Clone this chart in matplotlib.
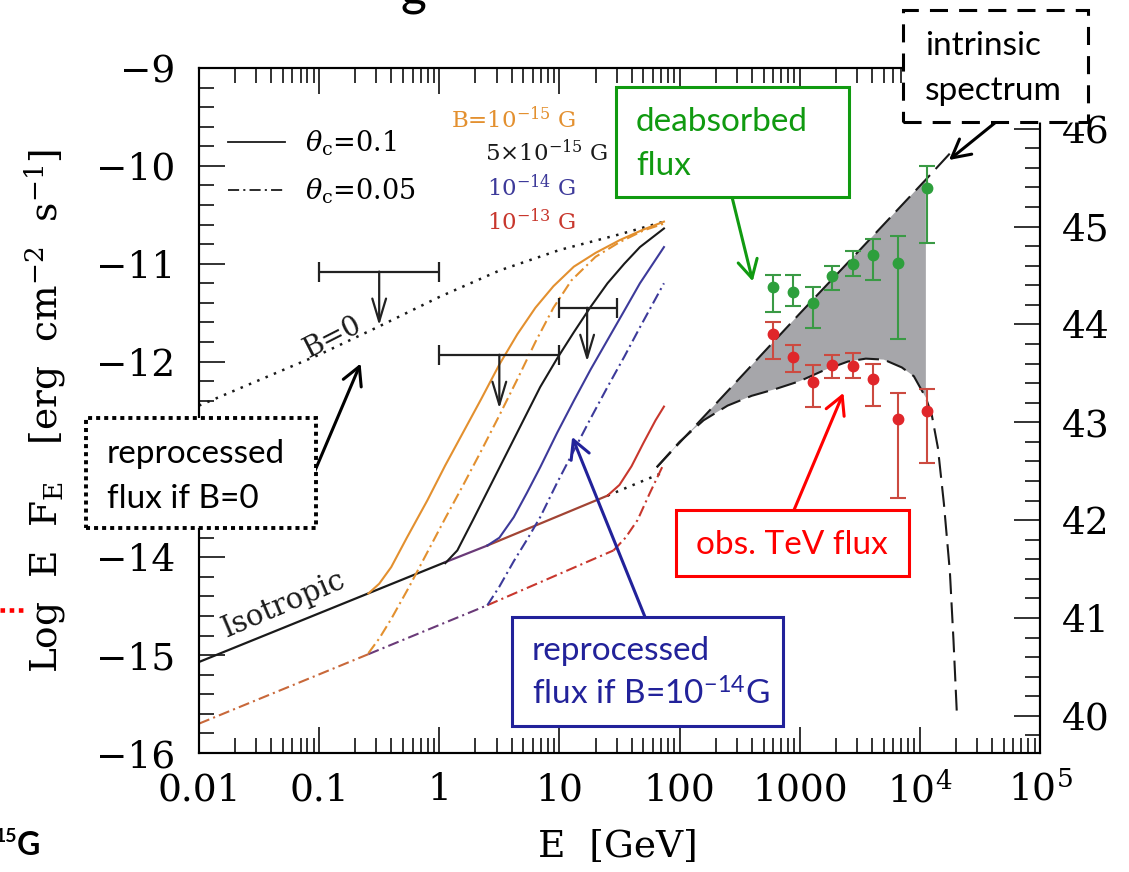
#!/usr/bin/env python3

import numpy as np
import matplotlib
matplotlib.use('Agg')
import matplotlib.pyplot as plt
import matplotlib.patches as patches
from matplotlib.lines import Line2D
from matplotlib.patches import ArrowStyle
from matplotlib.ticker import (FixedLocator, MultipleLocator, LogLocator, NullFormatter,
                               FuncFormatter)

plt.rcParams['font.family'] = 'DejaVu Serif'
plt.rcParams['mathtext.fontset'] = 'dejavuserif'
# only used by texts that ask for math_fontfamily='custom'
plt.rcParams['mathtext.rm'] = 'Lato'
plt.rcParams['mathtext.it'] = 'Lato:italic'
plt.rcParams['mathtext.bf'] = 'Lato:bold'
plt.rcParams['lines.scale_dashes'] = False

W, H = 1129, 872
SANS = 'Lato'

# log(E L_E) - log(E F_E) for the right-hand axis
LUM_OFFSET = 55.62

ORANGE = '#e3902f'
BLACK = '#1a1a1a'
BLUE = '#3d3a9a'
RED = '#c8372d'
PURPLE = '#6a3a78'
BROWN = '#c8683a'
DARKRED = '#a24434'

DASHDOT = (0, (8, 3, 1.5, 3))
LONGDASH = (0, (15, 6))
DOTS = (0, (1.8, 4.7))

# ---- cascade spectra: log10(E/GeV) against log10(E F_E) ----

# isotropic part, theta_c = 0.1 and 0.05
iso_logE = [-2.0, 0.05, 0.40, 1.40, 1.87]
iso_logF = [-15.07, -14.05, -13.88, -13.37, -13.13]
iso05_logE = [-2.0, -0.59, 0.40, 1.45]
iso05_logF = [-15.70, -14.99, -14.49, -13.93]

# B = 0
b0_logE = [-2.0, -1.5, -1.0, -0.5, 0.0, 0.5, 1.0, 1.5, 1.87]
b0_logF = [-12.45, -12.19, -11.93, -11.64, -11.34, -11.07, -10.86, -10.70, -10.57]

# B = 1e-15 G
b15_logE = [-0.59, -0.50, -0.40, -0.27, -0.10, 0.05, 0.20, 0.35, 0.50, 0.65,
            0.80, 0.95, 1.12, 1.30, 1.50, 1.70, 1.87]
b15_logF = [-14.37, -14.27, -14.10, -13.80, -13.42, -13.06, -12.72, -12.38, -12.03, -11.72,
            -11.45, -11.23, -11.03, -10.89, -10.76, -10.65, -10.57]
b15_05_logE = [-0.59, -0.50, -0.40, -0.25, -0.10, 0.05, 0.20, 0.35, 0.50, 0.65,
               0.80, 0.95, 1.10, 1.30, 1.50, 1.70, 1.87]
b15_05_logF = [-14.98, -14.83, -14.63, -14.30, -13.95, -13.60, -13.26, -12.91, -12.55, -12.18,
               -11.80, -11.45, -11.17, -10.93, -10.78, -10.66, -10.59]

# B = 5e-15 G
b5_logE = [0.05, 0.15, 0.28, 0.42, 0.56, 0.70, 0.84, 0.98, 1.12, 1.26, 1.40, 1.54, 1.67, 1.87]
b5_logF = [-14.06, -13.93, -13.62, -13.28, -12.94, -12.60, -12.26, -11.97, -11.70, -11.44,
           -11.20, -11.00, -10.83, -10.64]

# B = 1e-14 G
b14_logE = [0.40, 0.50, 0.62, 0.73, 0.84, 0.98, 1.12, 1.26, 1.40, 1.54, 1.67, 1.87]
b14_logF = [-13.88, -13.80, -13.59, -13.34, -13.08, -12.73, -12.40, -12.08, -11.78, -11.48,
            -11.20, -10.83]
b14_05_logE = [0.40, 0.50, 0.62, 0.73, 0.84, 0.98, 1.12, 1.26, 1.40, 1.54, 1.67, 1.87]
b14_05_logF = [-14.49, -14.30, -14.04, -13.82, -13.59, -13.24, -12.91, -12.58, -12.26, -11.95,
               -11.65, -11.20]

# B = 1e-13 G
b13_logE = [1.40, 1.50, 1.60, 1.70, 1.80, 1.87]
b13_logF = [-13.37, -13.26, -13.07, -12.83, -12.60, -12.46]
b13_05_logE = [1.45, 1.55, 1.65, 1.75, 1.87]
b13_05_logF = [-13.93, -13.80, -13.62, -13.35, -13.04]

# Fermi upper limits
ul_lo = [0.1, 1.0, 10.0]
ul_hi = [1.0, 10.0, 30.0]
ul_mid = [0.316, 3.16, 17.0]
ul_logF = [-11.08, -11.93, -11.45]
ul_drop = 0.55

# TeV spectrum
tev_E = [600, 880, 1290, 1860, 2770, 4060, 6520, 11500]
obs_logF = [-11.72, -11.95, -12.21, -12.03, -12.05, -12.18, -12.59, -12.50]
obs_top = [-11.60, -11.83, -12.04, -11.93, -11.91, -12.02, -12.32, -12.28]
obs_bot = [-11.97, -12.11, -12.46, -12.17, -12.17, -12.45, -13.39, -13.04]
deabs_logF = [-11.24, -11.29, -11.40, -11.13, -11.00, -10.91, -10.99, -10.23]
deabs_top = [-11.12, -11.12, -11.24, -11.02, -10.87, -10.75, -10.72, -10.00]
deabs_bot = [-11.49, -11.43, -11.66, -11.27, -11.13, -11.17, -11.77, -10.79]

# intrinsic and EBL-absorbed model spectra
intr_logE = [1.81, 2.5, 3.0, 3.5, 4.05, 4.26]
intr_logF = [-13.08, -12.17, -11.51, -10.86, -10.14, -9.86]
abs_logE = [1.81, 2.0, 2.2, 2.4, 2.6, 2.8, 3.0, 3.2, 3.4, 3.55, 3.7, 3.85, 3.95, 4.05,
            4.10, 4.15, 4.20, 4.25, 4.28, 4.31]
abs_logF = [-13.08, -12.82, -12.60, -12.45, -12.35, -12.28, -12.20, -12.09, -12.00, -11.97,
            -11.98, -12.06, -12.15, -12.37, -12.55, -12.88, -13.45, -14.15, -14.85, -15.65]
fill_edge_logE = 4.05

xtick_vals = [1e-2, 1e-1, 1, 10, 100, 1000, 1e4, 1e5]
xtick_labels = ['0.01', '0.1', '1', '10', '100', '1000', r'$10^4$', r'$10^5$']
# the -13 label sits behind the B=0 call-out box
ytick_hidden = [-13]


def E(logE):
    return 10 ** np.asarray(logE, dtype=float)


fig = plt.figure(figsize=(W / 100, H / 100), dpi=100)
ax = fig.add_axes([199 / W, 1 - 753 / H, 841 / W, 685 / H])
ax.set_xscale('log')
ax.set_xlim(1e-2, 1e5)
ax.set_ylim(-16, -9)

# shaded region between intrinsic and absorbed spectra
intr_logE_a, intr_logF_a = np.array(intr_logE), np.array(intr_logF)
abs_logE_a, abs_logF_a = np.array(abs_logE), np.array(abs_logF)
up = intr_logE_a <= fill_edge_logE
lo = abs_logE_a <= fill_edge_logE
poly_x = np.concatenate([intr_logE_a[up], abs_logE_a[lo][::-1]])
poly_y = np.concatenate([intr_logF_a[up], abs_logF_a[lo][::-1]])
ax.fill(E(poly_x), poly_y, color='#a6a6aa', lw=0, zorder=1)

ax.plot(E(intr_logE), intr_logF, color=BLACK, lw=1.5, ls=LONGDASH, zorder=3)
ax.plot(E(abs_logE), abs_logF, color=BLACK, lw=1.5, ls=LONGDASH, zorder=3)

# isotropic cascade, colours where several curves overlap
ax.plot(E(iso_logE[0:2]), iso_logF[0:2], color=BLACK, lw=1.6)
ax.plot(E(iso_logE[1:3]), iso_logF[1:3], color=PURPLE, lw=1.6)
ax.plot(E(iso_logE[2:4]), iso_logF[2:4], color=DARKRED, lw=1.6)
ax.plot(E(iso_logE[3:5]), iso_logF[3:5], color=BLACK, lw=1.8, ls=DOTS)
ax.plot(E(iso05_logE[0:2]), iso05_logF[0:2], color=BROWN, lw=1.5, ls=DASHDOT)
ax.plot(E(iso05_logE[1:3]), iso05_logF[1:3], color=PURPLE, lw=1.5, ls=DASHDOT)
ax.plot(E(iso05_logE[2:4]), iso05_logF[2:4], color=RED, lw=1.5, ls=DASHDOT)

ax.plot(E(b0_logE), b0_logF, color=BLACK, lw=1.8, ls=DOTS)

ax.plot(E(b15_logE), b15_logF, color=ORANGE, lw=1.5)
ax.plot(E(b15_05_logE), b15_05_logF, color=ORANGE, lw=1.5, ls=DASHDOT)
ax.plot(E(b5_logE), b5_logF, color=BLACK, lw=1.5)
ax.plot(E(b14_logE), b14_logF, color=BLUE, lw=1.5)
ax.plot(E(b14_05_logE), b14_05_logF, color=BLUE, lw=1.5, ls=DASHDOT)
ax.plot(E(b13_logE), b13_logF, color=RED, lw=1.5)
ax.plot(E(b13_05_logE), b13_05_logF, color=RED, lw=1.5, ls=DASHDOT)

# upper limits
ul_mid_a = np.array(ul_mid)
ax.errorbar(ul_mid, ul_logF,
            xerr=[ul_mid_a - np.array(ul_lo), np.array(ul_hi) - ul_mid_a],
            fmt='none', ecolor='#222222', elinewidth=1.6, capsize=7, capthick=1.6)
ul_head = ArrowStyle('->', head_length=1.1, head_width=0.33)
for x, y in zip(ul_mid, ul_logF):
    ax.annotate('', xy=(x, y - ul_drop), xytext=(x, y),
                arrowprops=dict(arrowstyle=ul_head, mutation_scale=15, lw=1.6,
                                color='#222222', shrinkA=0, shrinkB=0))

# TeV points
tev = np.array(tev_E)
ax.errorbar(tev, deabs_logF,
            yerr=[np.array(deabs_logF) - np.array(deabs_bot),
                  np.array(deabs_top) - np.array(deabs_logF)],
            fmt='o', color='#2d9f3c', ecolor='#3a9a45', ms=7.5, capsize=6,
            elinewidth=1.5, capthick=1.5, zorder=5)
ax.errorbar(tev, obs_logF,
            yerr=[np.array(obs_logF) - np.array(obs_bot),
                  np.array(obs_top) - np.array(obs_logF)],
            fmt='o', color='#e0262a', ecolor='#cc4a40', ms=7.5, capsize=6,
            elinewidth=1.5, capthick=1.5, zorder=5)

# in-plot labels
ax.text(E(-1.30), -14.48, 'Isotropic', rotation=23, fontsize=21,
        ha='center', va='center', color=BLACK)
ax.text(E(-0.89), -11.75, 'B=0', rotation=27, fontsize=20,
        ha='center', va='center', color=BLACK)

handles = [Line2D([], [], color=BLACK, lw=1.3),
           Line2D([], [], color=BLACK, lw=1.3, ls=DASHDOT)]
ax.legend(handles, [r'$\theta_{\rm c}$=0.1', r'$\theta_{\rm c}$=0.05'],
          loc='upper left', bbox_to_anchor=(0.0345, 0.912), frameon=False,
          fontsize=19.5, handlelength=2.1, handletextpad=0.75, labelspacing=0.7,
          borderpad=0, borderaxespad=0)

field_labels = [r'B=10$^{-15}$ G', r'5$\times$10$^{-15}$ G', r'10$^{-14}$ G', r'10$^{-13}$ G']
field_colors = [ORANGE, BLACK, BLUE, RED]
field_x = [0.300, 0.340, 0.342, 0.342]
field_y = [0.924, 0.876, 0.825, 0.775]
for s, c, x, y in zip(field_labels, field_colors, field_x, field_y):
    ax.text(x, y, s, transform=ax.transAxes, color=c, fontsize=16.5, ha='left', va='center')

# axes and ticks
ax.xaxis.set_major_locator(FixedLocator(xtick_vals))
ax.set_xticklabels(xtick_labels)
ax.xaxis.set_minor_locator(LogLocator(base=10, subs=np.arange(2, 10), numticks=100))
ax.xaxis.set_minor_formatter(NullFormatter())
ax.yaxis.set_major_locator(MultipleLocator(1))
ax.yaxis.set_minor_locator(MultipleLocator(0.2))
ax.yaxis.set_major_formatter(FuncFormatter(
    lambda v, pos: '' if round(v) in ytick_hidden else f'{int(round(v))}'.replace('-', '\u2212')))
ax.tick_params(which='both', direction='in', top=True, right=False, width=1.3,
               color='#222222')
ax.tick_params(which='major', length=19, labelsize=27)
ax.tick_params(which='minor', length=10.5)
ax.tick_params(axis='x', which='major', pad=14)
ax.tick_params(axis='y', which='major', pad=17)
for s in ax.spines.values():
    s.set_linewidth(1.5)

ax2 = ax.twinx()
ax2.set_ylim(-16 + LUM_OFFSET, -9 + LUM_OFFSET)
ax2.yaxis.set_major_locator(MultipleLocator(1))
ax2.yaxis.set_minor_locator(MultipleLocator(0.2))
ax2.tick_params(which='both', direction='in', width=1.3, color='#222222')
ax2.tick_params(which='major', length=19, labelsize=27, pad=16)
ax2.tick_params(which='minor', length=10.5)
for s in ax2.spines.values():
    s.set_linewidth(1.5)

fig.text(45 / W, 1 - 411 / H, r'Log  E  F$_{\rm E}$   [erg  cm$^{-2}$  s$^{-1}$]',
         rotation=90, ha='center', va='center', fontsize=27)
fig.text(618 / W, 1 - 847 / H, 'E  [GeV]', ha='center', va='center', fontsize=27)


# ---- call-out boxes (pixel layout, y measured from the top) ----
def box(x0, y0, x1, y1, **style):
    rect = patches.Rectangle((x0 / W, 1 - y1 / H), (x1 - x0) / W, (y1 - y0) / H,
                             transform=fig.transFigure, facecolor='white', **style)
    fig.add_artist(rect)


def label(x, y, s, **kw):
    fig.text(x / W, 1 - y / H, s, va='baseline', fontfamily=SANS, fontsize=24, **kw)


def pointer(logE, logF, x, y, color):
    ax.annotate('', xy=(E(logE), logF), xycoords='data',
                xytext=(x, H - y), textcoords='figure pixels',
                arrowprops=dict(arrowstyle=ArrowStyle('->', head_length=0.65, head_width=0.35),
                                mutation_scale=20, lw=2.2, color=color,
                                shrinkA=0, shrinkB=0),
                annotation_clip=False)


GREEN_BOX = '#109a10'
NAVY = '#22229a'

box(903, 10, 1088, 122, edgecolor='black', lw=2.2, ls=(0, (13, 8)))
label(925, 55, 'intrinsic', color='black')
label(925, 100, 'spectrum', color='black')
pointer(4.243, -9.94, 996, 122, 'black')

box(616, 87, 849, 197, edgecolor=GREEN_BOX, lw=2.2)
label(636, 131, 'deabsorbed', color=GREEN_BOX)
label(636, 175, 'flux', color=GREEN_BOX)
pointer(2.609, -11.18, 732, 197, GREEN_BOX)

box(86, 418, 316, 528, edgecolor='black', lw=2.8, ls=(0, (2.9, 2.9)))
label(107, 463, 'reprocessed', color='black')
label(107, 508, 'flux if B=0', color='black')
pointer(-0.655, -12.02, 314, 473, 'black')

box(512, 617, 783, 726, edgecolor=NAVY, lw=2.2)
label(532, 660, 'reprocessed', color=NAVY)
label(532, 705, r'flux if B=10$^{-14}$G', color=NAVY, math_fontfamily='custom')
pointer(1.106, -12.77, 645, 617, NAVY)

box(676, 510, 909, 576, edgecolor='#ff0000', lw=2.2)
label(792, 554, 'obs. TeV flux', color='#ff0000', ha='center')
pointer(3.364, -12.32, 794, 510, '#ff0000')

# pieces of the surrounding slide that reach into the frame
fig.text(414 / W, 1 - 4 / H, 'g', ha='center', va='baseline', fontfamily=SANS, fontsize=36)
fig.text(17 / W, 1 - 842 / H, '15', ha='right', va='baseline', fontfamily=SANS,
         fontsize=14, fontweight='bold')
fig.text(17 / W, 1 - 855 / H, 'G', ha='left', va='baseline', fontfamily=SANS,
         fontsize=23, fontweight='bold')
fig.add_artist(Line2D([0, 24 / W], [1 - 610 / H, 1 - 610 / H], transform=fig.transFigure,
                      color='#ff0000', lw=3.3, ls=(0, (3.3, 3.3))))

fig.savefig('out.png', dpi=100)
